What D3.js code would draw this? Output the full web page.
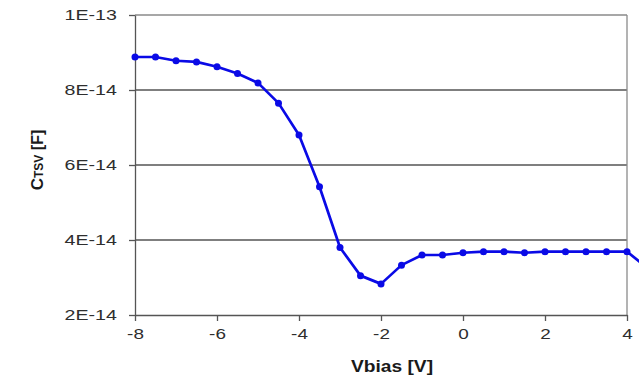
<!DOCTYPE html>
<html>
<head>
<meta charset="utf-8">
<script src="https://cdn.jsdelivr.net/npm/d3@7"></script>
<style>
  body { margin: 0; background: #fff; }
  svg { display: block; font-family: "Liberation Sans", Arial, sans-serif; }
</style>
</head>
<body>
<div id="chart"></div>
<script>
// bias voltage (V) and measured capacitance (F)
const vbias = [-8, -7.5, -7, -6.5, -6, -5.5, -5, -4.5, -4, -3.5, -3, -2.5, -2, -1.5, -1, -0.5,
  0, 0.5, 1, 1.5, 2, 2.5, 3, 3.5, 4, 4.5];
const ctsv = [8.88, 8.88, 8.78, 8.75, 8.62, 8.44, 8.19, 7.65, 6.8, 5.42, 3.8, 3.05, 2.83, 3.33, 3.6, 3.6,
  3.66, 3.69, 3.69, 3.66, 3.69, 3.69, 3.69, 3.69, 3.69, 3.25].map(v => v * 1e-14);
const xTicks = [-8, -6, -4, -2, 0, 2, 4];
const yTicks = [2e-14, 4e-14, 6e-14, 8e-14, 1e-13];

const width = 639, height = 378;
const margin = { top: 15, right: 12, bottom: 63, left: 135 };

const svg = d3.select("#chart").append("svg")
  .attr("width", width)
  .attr("height", height);

const x = d3.scaleLinear().domain([-8, 4]).range([margin.left, width - margin.right]);
const y = d3.scaleLinear().domain([2e-14, 1e-13]).range([height - margin.bottom, margin.top]);

const fmt = d => d.toExponential(0).toUpperCase();

// gridlines
svg.append("g")
  .selectAll("line")
  .data(yTicks.slice(1))
  .enter()
  .append("line")
  .attr("x1", x(-8)).attr("x2", x(4))
  .attr("y1", d => y(d)).attr("y2", d => y(d))
  .attr("stroke", (d, i) => i == yTicks.length - 2 ? "#8a8a8a" : "#555")
  .attr("stroke-width", 1.3);

// right border
svg.append("line")
  .attr("x1", x(4)).attr("x2", x(4))
  .attr("y1", y(1e-13)).attr("y2", y(2e-14))
  .attr("stroke", "#8a8a8a").attr("stroke-width", 1.3);

// axes
const xAxis = svg.append("g")
  .attr("transform", `translate(0,${y(2e-14)})`)
  .call(d3.axisBottom(x).tickValues(xTicks).tickSize(6).tickSizeOuter(0).tickFormat(d => d));
const yAxis = svg.append("g")
  .attr("transform", `translate(${x(-8)},0)`)
  .call(d3.axisLeft(y).tickValues(yTicks).tickSize(6).tickSizeOuter(0).tickFormat(fmt));

[xAxis, yAxis].forEach(g => {
  g.select(".domain").attr("stroke", "#555").attr("stroke-width", 1.3);
  g.selectAll(".tick line").attr("stroke", "#555").attr("stroke-width", 1.3);
  g.selectAll(".tick text").attr("fill", "#2e2e2e").attr("font-size", 14);
});
xAxis.selectAll(".tick text").attr("y", 14)
  .attr("transform", "scale(1.35,1)");
yAxis.selectAll(".tick text").attr("x", -13)
  .attr("transform", "scale(1.4,1)");

// line + markers
const pts = vbias.map((v, i) => [v, ctsv[i]]);
svg.append("path")
  .datum(pts)
  .attr("fill", "none")
  .attr("stroke", "#0a0ae6")
  .attr("stroke-width", 2.7)
  .attr("stroke-linejoin", "round")
  .attr("d", d3.line().x(d => x(d[0])).y(d => y(d[1])));

svg.selectAll(".pt")
  .data(pts)
  .enter()
  .append("circle")
  .attr("class", "pt")
  .attr("cx", d => x(d[0]))
  .attr("cy", d => y(d[1]))
  .attr("r", 3.5)
  .attr("fill", "#0a0ae6");

// axis titles
svg.append("text")
  .attr("x", 392).attr("y", 372)
  .attr("text-anchor", "middle")
  .attr("font-size", 16).attr("font-weight", "bold")
  .attr("fill", "#1a1a1a")
  .attr("transform", "translate(392,0) scale(1.2,1) translate(-392,0)")
  .text("Vbias [V]");

const yt = svg.append("text")
  .attr("transform", "translate(43,160) rotate(-90)")
  .attr("text-anchor", "middle")
  .attr("font-weight", "bold")
  .attr("fill", "#1a1a1a");
yt.append("tspan").attr("font-size", 17).text("C");
yt.append("tspan").attr("font-size", 12).text("TSV");
yt.append("tspan").attr("font-size", 16).text(" [F]");
</script>
</body>
</html>
